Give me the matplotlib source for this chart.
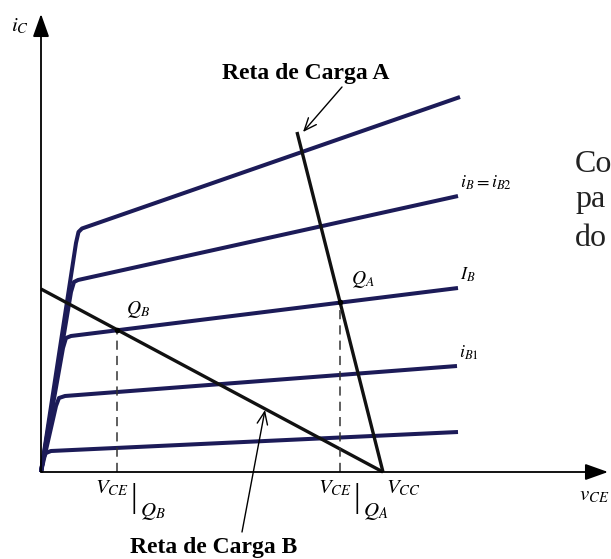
import matplotlib
matplotlib.use("Agg")
import matplotlib.pyplot as plt

plt.rcParams['mathtext.fontset'] = 'stix'
plt.rcParams['font.family'] = ['Liberation Serif', 'DejaVu Serif']

# collector curves, one per base current (x = v_CE, y = i_C, arbitrary units)
curve_x = [
    [0, 35, 37.5, 41, 419],
    [0, 30, 33, 37, 417],
    [0, 22, 25, 30, 417],
    [0, 15, 18, 24, 416],
    [0, 2, 5, 10, 417],
]
curve_y = [
    [0, 229, 240, 243.5, 375],
    [0, 180, 190, 192, 276],
    [0, 124, 134, 136, 184],
    [0, 66, 74, 76, 106],
    [0, 13, 19, 21, 40],
]
curve_labels = [r'$i_B = i_{B2}$', r'$I_B$', r'$i_{B1}$']
curve_label_idx = [1, 2, 3]

# load lines
vcc = 342
load_a_x = [256, vcc]
load_a_y = [340, 0]
load_b_x = [0, vcc]
load_b_y = [183, 0]

# operating points
q_a = (299, 170)
q_b = (76, 142)

navy = '#1c1b58'

fig = plt.figure(figsize=(6.11, 5.59), dpi=100)
ax = fig.add_axes([0, 0, 1, 1])
ax.set_xlim(-41, 570)
ax.set_ylim(-87, 472)
ax.axis('off')

# axes with arrows
arrow_kw = dict(arrowstyle='-|>,head_length=0.7,head_width=0.25', color='black',
                lw=1.3, shrinkA=0, shrinkB=0, mutation_scale=20)
ax.annotate('', xy=(0, 458), xytext=(0, 0), arrowprops=arrow_kw)
ax.annotate('', xy=(567, 0), xytext=(0, 0), arrowprops=arrow_kw)

for cx, cy in zip(curve_x, curve_y):
    ax.plot(cx, cy, color=navy, lw=2.9, solid_joinstyle='round', solid_capstyle='butt')

ax.plot(load_a_x, load_a_y, color='#111111', lw=2.4, solid_capstyle='butt')
ax.plot(load_b_x, load_b_y, color='#111111', lw=2.4, solid_capstyle='butt')

# dashed projections
for q in (q_a, q_b):
    ax.plot([q[0], q[0]], [0, q[1]], color='#333333', lw=1.1, dashes=(6, 4))
    ax.plot(q[0], q[1], 'o', color='black', ms=3)

# curve labels
for lab, i in zip(curve_labels, curve_label_idx):
    ax.text(curve_x[i][-1] + 2, curve_y[i][-1] + 13, lab, fontsize=13,
            ha='left', va='center')

ax.text(-21, 446, r'$i_C$', fontsize=15, ha='center', va='center')
ax.text(553, -24, r'$v_{CE}$', fontsize=15, ha='center', va='center')

ax.text(q_a[0] + 23, q_a[1] + 22, r'$Q_A$', fontsize=14, ha='center', va='center')
ax.text(q_b[0] + 21, q_b[1] + 21, r'$Q_B$', fontsize=14, ha='center', va='center')

# V_CE|Q labels under the axis
for q, sub in ((q_b, 'B'), (q_a, 'A')):
    ax.text(q[0] - 5, -16, r'$V_{CE}$', fontsize=15, ha='center', va='center')
    ax.text(q[0] + 17, -27, '|', fontsize=24, ha='center', va='center')
    ax.text(q[0] + 36, -39, r'$Q_%s$' % sub, fontsize=15, ha='center', va='center')
ax.text(vcc + 20, -16, r'$V_{CC}$', fontsize=15, ha='center', va='center')

# load line callouts
callout_kw = dict(arrowstyle='->,head_length=0.6,head_width=0.25', color='black',
                  lw=1.0, shrinkA=0, shrinkB=0, mutation_scale=15)
ax.text(265, 399, 'Reta de Carga A', fontsize=17, fontweight='bold',
        ha='center', va='center')
ax.annotate('', xy=(262, 340), xytext=(301, 385), arrowprops=callout_kw)
ax.text(173, -75, 'Reta de Carga B', fontsize=17, fontweight='bold',
        ha='center', va='center')
ax.annotate('', xy=(224, 62), xytext=(201, -60), arrowprops=callout_kw)

# clipped slide text on the right edge
for txt, y in (('Co', 307), ('pa', 272), ('do', 234)):
    ax.text(534, y, txt, fontsize=23, color='#222222', ha='left', va='center')

fig.savefig('out.png', dpi=100)
